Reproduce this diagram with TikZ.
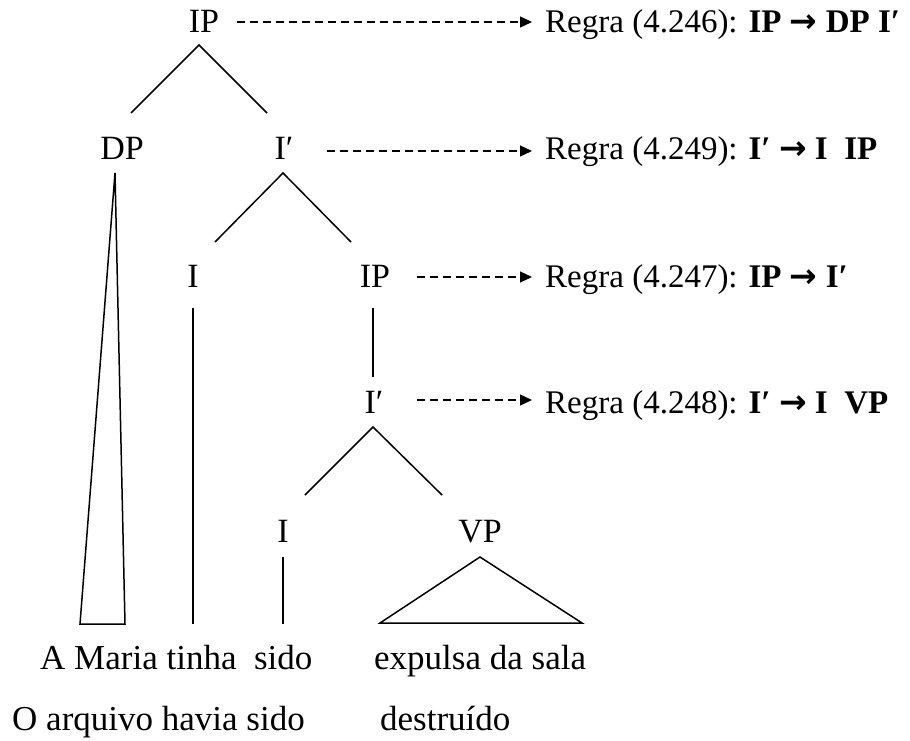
\documentclass[tikz,border=0pt]{standalone}
\usepackage{fontspec}
\setmainfont{Liberation Serif}
\newfontfamily\arrowfont{DejaVu Sans}
\newcommand{\bigarrow}{{\arrowfont\bfseries →}}
\usetikzlibrary{arrows.meta}
\begin{document}
\begin{tikzpicture}[x=1pt,y=-1pt,
  lbl/.style={inner sep=0pt,anchor=base,font=\fontsize{34}{40}\selectfont},
  rule/.style={inner sep=0pt,anchor=base west,font=\fontsize{33}{40}\selectfont},
  word/.style={inner sep=0pt,anchor=base west,font=\fontsize{35}{40}\selectfont},
  branch/.style={line width=1.5pt},
  dasharrow/.style={line width=1.3pt,dash pattern=on 8pt off 5pt,-{Triangle[length=12pt,width=11pt]}}]
\useasboundingbox (0,0) rectangle (910,741);
% tree labels
\node[lbl] (IPa) at (204,33) {IP};
\node[lbl] (DP) at (122,160) {DP};
\node[lbl] (Ibara) at (284,160) {I′};
\node[lbl] (Ia) at (193,287) {I};
\node[lbl] (IPb) at (375,287) {IP};
\node[lbl] (Ibarb) at (374,413) {I′};
\node[lbl] (Ib) at (283,542) {I};
\node[lbl] (VP) at (480,542) {VP};
% rule texts
\node[rule] (R1) at (545,33) {Regra (4.246): \textbf{IP \bigarrow\ DP I′}};
\node[rule] (R2) at (545,160) {Regra (4.249): \textbf{I′ \bigarrow\ I\ \ IP}};
\node[rule] (R3) at (545,287) {Regra (4.247): \textbf{IP \bigarrow\ I′}};
\node[rule] (R4) at (545,413) {Regra (4.248): \textbf{I′ \bigarrow\ I\ \ VP}};
% words
\node[word] (S1a) at (40,669) {A Maria tinha\ \ sido};
\node[word] (S1b) at (374,669) {expulsa da sala};
\node[word] (S2a) at (12,730) {O arquivo havia sido};
\node[word] (S2b) at (380,730) {destruído};
% branch coordinates
\coordinate (ta) at (199,45);
\coordinate (tal) at (131,113);
\coordinate (tar) at (267,113);
\coordinate (tb) at (283,173);
\coordinate (tbl) at (215,242);
\coordinate (tbr) at (351,242);
\coordinate (tc) at (373,308);
\coordinate (tcb) at (373,377);
\coordinate (td) at (373,427);
\coordinate (tdl) at (305,495);
\coordinate (tdr) at (442,495);
\coordinate (dpt) at (115,173);
\coordinate (dpl) at (80,624);
\coordinate (dpr) at (125,624);
\coordinate (iat) at (193,308);
\coordinate (iab) at (193,624);
\coordinate (ibt) at (283,557);
\coordinate (ibb) at (283,624);
\coordinate (vpt) at (480,557);
\coordinate (vpl) at (380,623);
\coordinate (vpr) at (582,623);
\draw[branch] (tal) -- (ta) -- (tar);
\draw[branch] (tbl) -- (tb) -- (tbr);
\draw[branch] (tc) -- (tcb);
\draw[branch] (tdl) -- (td) -- (tdr);
\draw[branch,line join=miter] (dpt) -- (dpl) -- (dpr) -- cycle;
\draw[branch] (iat) -- (iab);
\draw[branch] (ibt) -- (ibb);
\draw[branch] (vpt) -- (vpl) -- (vpr) -- cycle;
% dashed arrows
\coordinate (a1s) at (237,22);
\coordinate (a1e) at (532,22);
\coordinate (a2s) at (327,151);
\coordinate (a2e) at (532,151);
\coordinate (a3s) at (417,277);
\coordinate (a3e) at (532,277);
\coordinate (a4s) at (417,400);
\coordinate (a4e) at (532,400);
\draw[dasharrow] (a1s) -- (a1e);
\draw[dasharrow] (a2s) -- (a2e);
\draw[dasharrow] (a3s) -- (a3e);
\draw[dasharrow] (a4s) -- (a4e);
\end{tikzpicture}
\end{document}
